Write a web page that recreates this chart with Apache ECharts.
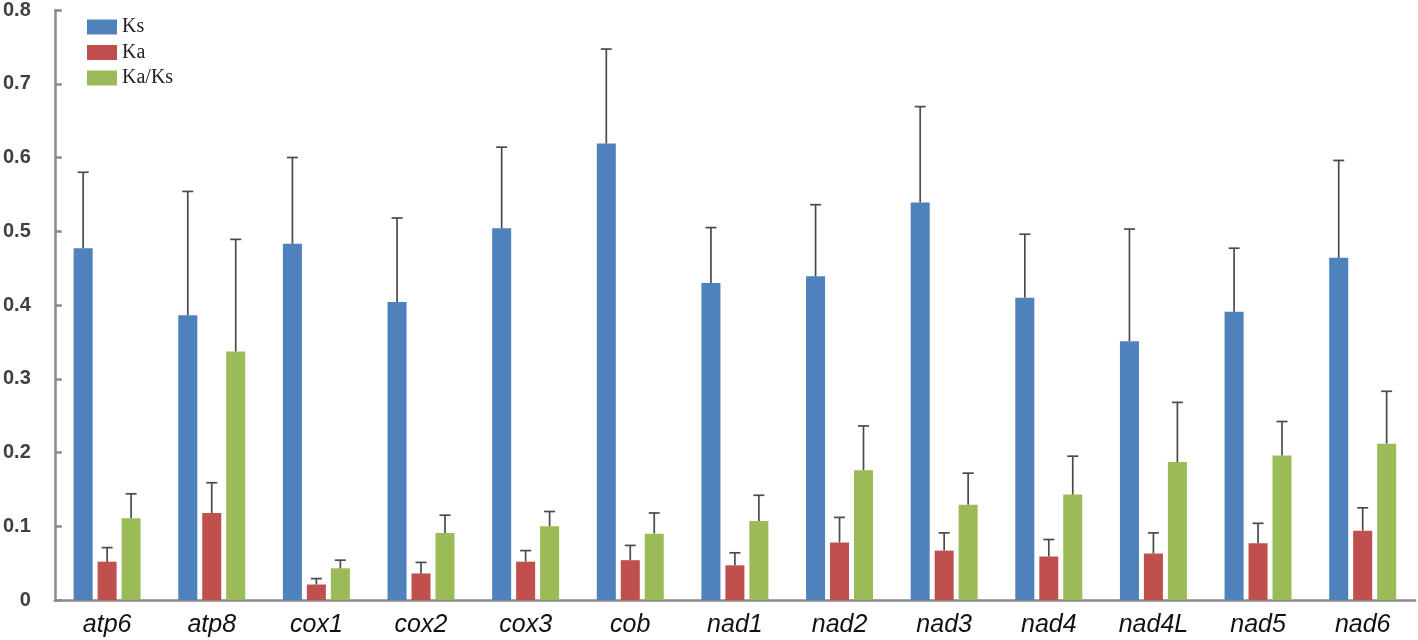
<!DOCTYPE html>
<html>
<head>
<meta charset="utf-8">
<script src="https://cdn.jsdelivr.net/npm/echarts@6/dist/echarts.min.js"></script>
<style>
html,body{margin:0;padding:0;background:#fff;}
#chart{width:1418px;height:640px;}
</style>
</head>
<body>
<div id="chart"></div>
<script>
const categories = ['atp6','atp8','cox1','cox2','cox3','cob','nad1','nad2','nad3','nad4','nad4L','nad5','nad6'];
const ksValues   = [0.477,0.386,0.483,0.404,0.504,0.619,0.430,0.439,0.539,0.410,0.351,0.391,0.464];
const ksUpper    = [0.580,0.554,0.600,0.518,0.614,0.747,0.505,0.536,0.669,0.496,0.503,0.477,0.596];
const kaValues   = [0.052,0.118,0.021,0.036,0.052,0.054,0.047,0.078,0.067,0.059,0.063,0.077,0.094];
const kaUpper    = [0.071,0.159,0.029,0.051,0.067,0.074,0.064,0.112,0.091,0.082,0.091,0.104,0.125];
const ratioValues= [0.111,0.337,0.043,0.091,0.100,0.090,0.107,0.176,0.129,0.143,0.187,0.196,0.212];
const ratioUpper = [0.144,0.489,0.054,0.115,0.120,0.118,0.142,0.236,0.172,0.195,0.268,0.242,0.283];
const yTicks = [0, 0.1, 0.2, 0.3, 0.4, 0.5, 0.6, 0.7, 0.8];

const seriesNames = ['Ks','Ka','Ka/Ks'];
const colors = ['#4F81BD','#C0504D','#9BBB59'];
const CAT_GAP = 0.36, BAR_GAP = 0.26, N = 3;

function errorSeries(idx, values, upper) {
  return {
    type: 'custom',
    name: seriesNames[idx] + ' err',
    z: 5,
    silent: true,
    data: values.map((v, i) => [i, v, upper[i]]),
    encode: { x: 0, y: [1, 2] },
    renderItem: function (params, api) {
      const ci = api.value(0);
      const band = api.size([1, 0])[0];
      const bw = band * (1 - CAT_GAP) / (N + (N - 1) * BAR_GAP);
      const total = N * bw + (N - 1) * BAR_GAP * bw;
      const cx = api.coord([ci, 0])[0] - total / 2 + idx * bw * (1 + BAR_GAP) + bw / 2;
      const y0 = api.coord([ci, api.value(1)])[1];
      const y1 = api.coord([ci, api.value(2)])[1];
      const cap = 5.5;
      const style = { stroke: '#4a4a4a', lineWidth: 1.7 };
      return {
        type: 'group',
        children: [
          { type: 'line', shape: { x1: cx, y1: y0, x2: cx, y2: y1 }, style: style },
          { type: 'line', shape: { x1: cx - cap, y1: y1, x2: cx + cap, y2: y1 }, style: style }
        ]
      };
    }
  };
}

const chart = echarts.init(document.getElementById('chart'), null, { renderer: 'canvas' });
chart.setOption({
  animation: false,
  backgroundColor: '#fff',
  grid: { left: 52, right: 3, top: 8, bottom: 40, containLabel: false },
  legend: {
    data: seriesNames,
    orient: 'vertical',
    left: 82,
    top: 12,
    itemWidth: 30,
    itemHeight: 15,
    itemGap: 5.5,
    icon: 'rect',
    textStyle: { fontFamily: 'Liberation Serif', fontSize: 20, color: '#222' }
  },
  xAxis: {
    type: 'category',
    data: categories,
    axisLine: { lineStyle: { color: '#8a8a8a', width: 2.5 } },
    axisTick: { show: false },
    axisLabel: {
      fontFamily: 'Liberation Sans',
      fontStyle: 'italic',
      fontSize: 25,
      color: '#111',
      margin: 13
    }
  },
  yAxis: {
    type: 'value',
    min: 0,
    max: 0.8,
    interval: 0.1,
    splitLine: { show: false },
    axisLine: { show: true, lineStyle: { color: '#8a8a8a', width: 2.5 } },
    axisTick: { show: true, inside: true, length: 7, lineStyle: { color: '#8a8a8a', width: 2.5 } },
    axisLabel: {
      fontFamily: 'Liberation Sans',
      fontWeight: 'bold',
      fontSize: 20,
      color: '#404040',
      margin: 24,
      formatter: function (v) {
        const t = yTicks.find(x => Math.abs(x - v) < 1e-9);
        return t === undefined ? '' : String(t);
      }
    }
  },
  series: [
    { type: 'bar', name: 'Ks', data: ksValues, itemStyle: { color: colors[0] }, barGap: '26%', barCategoryGap: '36%' },
    { type: 'bar', name: 'Ka', data: kaValues, itemStyle: { color: colors[1] } },
    { type: 'bar', name: 'Ka/Ks', data: ratioValues, itemStyle: { color: colors[2] } },
    errorSeries(0, ksValues, ksUpper),
    errorSeries(1, kaValues, kaUpper),
    errorSeries(2, ratioValues, ratioUpper)
  ]
});
</script>
</body>
</html>
